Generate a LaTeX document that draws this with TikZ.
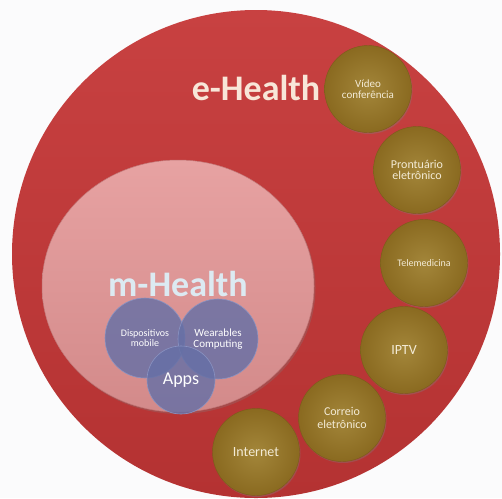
\documentclass[tikz,border=0pt]{standalone}
\usepackage{fontspec}
\setmainfont{Carlito}
\usetikzlibrary{shapes.geometric,shadows}

\definecolor{bg}{HTML}{FBFBFC}
\definecolor{ehredlight}{HTML}{C84141}
\definecolor{ehreddark}{HTML}{B43232}
\definecolor{mhpink}{HTML}{E7A2A2}
\definecolor{mhpinkdark}{HTML}{D38A8A}
\definecolor{mhedge}{HTML}{C27878}
\definecolor{goldlight}{HTML}{A3863A}
\definecolor{golddark}{HTML}{8A6A20}
\definecolor{goldedge}{HTML}{7A5C1A}
\definecolor{goldtext}{HTML}{F3EBD6}
\definecolor{bluefill}{HTML}{6670A6}
\definecolor{blueedge}{HTML}{8A93C2}
\definecolor{ehtext}{HTML}{F8E6D8}
\definecolor{mhtext}{HTML}{DCEAF2}

\tikzset{
  techball/.style={circle, minimum size=87pt, inner sep=0pt, align=center,
    text=goldtext, inner color=goldlight, outer color=golddark,
    draw=goldedge, line width=0.4pt,
    drop shadow={shadow xshift=1pt, shadow yshift=-1.5pt, opacity=0.35}},
  mobball/.style={circle, inner sep=0pt, align=center, fill=bluefill,
    fill opacity=0.82, text opacity=1, draw=blueedge, line width=0.6pt,
    text=white},
  biglabel/.style={anchor=base, inner sep=0pt,
    font=\bfseries\fontsize{36}{40}\selectfont},
}

\begin{document}
\begin{tikzpicture}[x=1pt,y=-1pt]
  \useasboundingbox (0,0) rectangle (502,498);
  \fill[bg] (0,0) rectangle (502,498);
  \clip (0,0) rectangle (502,498);

  % outer e-Health disc
  \node[circle, minimum size=488pt, inner sep=0pt,
        top color=ehredlight, bottom color=ehreddark] (ehealth) at (256,254) {};

  % m-Health area
  \node[ellipse, minimum width=272pt, minimum height=252pt, inner sep=0pt,
        top color=mhpink, bottom color=mhpinkdark, draw=mhedge, line width=0.5pt,
        drop shadow={shadow xshift=1.5pt, shadow yshift=-2pt, opacity=0.3}]
        (mhealth) at (178,286) {};

  % mobile technologies
  \node[mobball, minimum size=80pt, font=\fontsize{10}{10}\selectfont]
        (disp) at (145,338) {Dispositivos\\mobile};
  \node[mobball, minimum size=80pt, font=\fontsize{11}{10.5}\selectfont]
        (wear) at (218,339) {Wearables\\Computing};
  \node[mobball, minimum size=68pt, font=\fontsize{18}{18}\selectfont]
        (apps) at (181,380) {Apps};

  % e-Health technologies
  \node[techball, font=\fontsize{11}{11.5}\selectfont]
        (video) at (368,89) {Vídeo\\conferência};
  \node[techball, font=\fontsize{12}{11.5}\selectfont]
        (pront) at (417,170) {Prontuário\\eletrônico};
  \node[techball, font=\fontsize{10}{11}\selectfont]
        (tele) at (424,263) {Telemedicina};
  \node[techball, font=\fontsize{14}{14}\selectfont]
        (iptv) at (404,350) {IPTV};
  \node[techball, font=\fontsize{12}{13}\selectfont]
        (correio) at (342,418) {Correio\\eletrônico};
  \node[techball, font=\fontsize{14}{14}\selectfont]
        (internet) at (256,452) {Internet};

  % titles
  \node[biglabel, text=ehtext] (ehlabel) at (256,100) {e-Health};
  \node[biglabel, text=mhtext] (mhlabel) at (178,296) {m-Health};
\end{tikzpicture}
\end{document}
